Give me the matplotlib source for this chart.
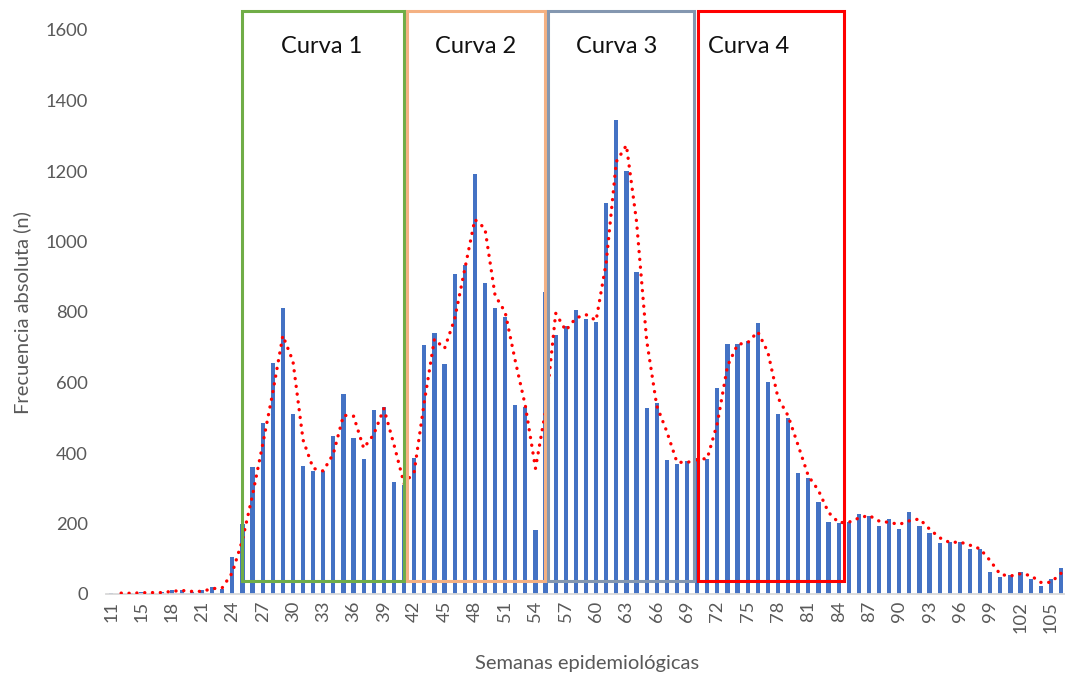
import matplotlib
matplotlib.use("Agg")
import matplotlib.pyplot as plt
from matplotlib.patches import Rectangle
import numpy as np

# ---------------- data ----------------
weeks = [11, 13, 14, 15, 16, 17, 18, 19, 20, 21, 22, 23, 24, 25, 26, 27, 28, 29, 30,
         31, 32, 33, 34, 35, 36, 37, 38, 39, 40, 41, 42, 43, 44, 45, 46, 47, 48, 49, 50,
         51, 52, 53, 54, 55, 56, 57, 58, 59, 60, 61, 62, 63, 64, 65, 66, 67, 68, 69, 70,
         71, 72, 73, 74, 75, 76, 77, 78, 79, 80, 81, 82, 83, 84, 85, 86, 87, 88, 89, 90,
         91, 92, 93, 94, 95, 96, 97, 98, 99, 100, 101, 102, 103, 104, 105, 106]
cases = [3, 2, 2, 5, 3, 5, 10, 10, 5, 10, 20, 15, 106, 200, 361, 486, 656, 810, 511,
         363, 350, 348, 448, 566, 443, 384, 522, 530, 317, 308, 385, 705, 741, 652, 908, 934, 1191, 883, 812,
         787, 536, 531, 182, 858, 735, 760, 806, 779, 773, 1108, 1345, 1201, 913, 527, 541, 380, 368, 378, 385,
         384, 585, 708, 708, 718, 770, 602, 511, 500, 342, 328, 260, 203, 202, 205, 226, 220, 194, 212, 183,
         232, 194, 174, 145, 147, 148, 129, 127, 62, 49, 53, 62, 43, 23, 43, 74]
curve_labels = ["Curva 1", "Curva 2", "Curva 3", "Curva 4"]
# first / last week enclosed by each curve box
curve_start_weeks = [25, 41, 55, 70]
curve_end_weeks = [41, 55, 69, 84]

# ---------------- figure ----------------
plt.rcParams['font.family'] = ['Lato', 'DejaVu Sans']
W, H = 1065, 675
fig = plt.figure(figsize=(W / 100, H / 100), dpi=100)
ax = fig.add_axes([106 / W, 81 / H, (1066 - 106) / W, (594 - 30) / H])

x = np.arange(len(weeks))
vals = np.array(cases, dtype=float)
ax.bar(x, vals, width=0.42, color="#4472C4", zorder=2)

# 2-period moving average trendline
ma = (vals[1:] + vals[:-1]) / 2.0
ax.plot(x[1:], ma, color="#FF0000", linewidth=2.4,
        linestyle=(0, (0.05, 2.3)), dash_capstyle="round", zorder=4)

ax.set_xlim(-0.5, len(weeks) - 0.5)
ax.set_ylim(0, 1600)
ax.set_yticks(np.arange(0, 1601, 200))
ax.set_xticks(x[::3])
ax.set_xticklabels([str(w) for w in weeks[::3]], rotation=90, ha="center", va="top")
ax.tick_params(axis="y", length=0, pad=13, labelsize=13.2, colors="#595959")
ax.tick_params(axis="x", length=0, pad=5, labelsize=13.2, colors="#595959")
for s in ["left", "right", "top"]:
    ax.spines[s].set_visible(False)
ax.spines["bottom"].set_color("#D9D9D9")
ax.spines["bottom"].set_linewidth(1.3)

# curve boxes
idx = {w: i for i, w in enumerate(weeks)}
box_colors = ["#70AD47", "#F4B183", "#8497B0", "#FF0000"]
box_x0 = [idx[curve_start_weeks[0]], idx[curve_start_weeks[1]] + 0.3,
          idx[curve_start_weeks[2]] + 0.2, idx[curve_start_weeks[3]] + 0.1]
box_x1 = [idx[curve_end_weeks[0]], idx[curve_end_weeks[1]] - 0.05,
          idx[curve_end_weeks[2]] + 0.7, idx[curve_end_weeks[3]] + 0.5]
text_x = [20.8, 36.1, 50.0, 63.1]
y0, y1 = 38, 1654
for lab, c, a, b, tx in zip(curve_labels, box_colors, box_x0, box_x1, text_x):
    r = Rectangle((a, y0), b - a, y1 - y0, fill=False, edgecolor=c,
                  linewidth=2.2, clip_on=False, zorder=5)
    ax.add_patch(r)
    ax.text(tx, 1553, lab, ha="center", va="center", fontsize=17, color="#111111", zorder=6)

fig.text(22 / W, 1 - 313 / H, "Frecuencia absoluta (n)", rotation=90,
         ha="center", va="center", fontsize=14.5, color="#595959")
fig.text(587 / W, 1 - 664 / H, "Semanas epidemiológicas",
         ha="center", va="center", fontsize=14.5, color="#595959")

fig.savefig("out.png", dpi=100)
